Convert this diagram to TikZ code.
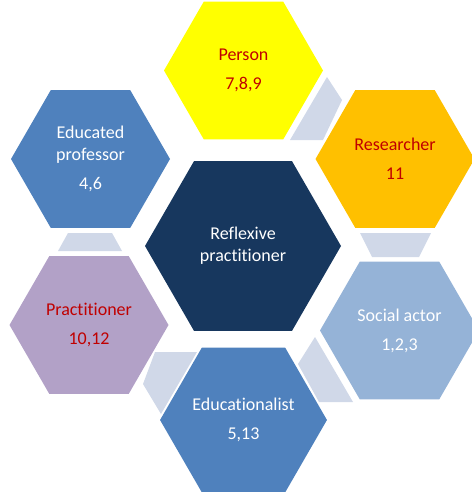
\documentclass[tikz,border=0pt]{standalone}
\usepackage{fontspec}
\setmainfont[Ligatures=CommonOff]{Carlito}
\usetikzlibrary{shapes.geometric}

\definecolor{hexyellow}{HTML}{FFFF00}
\definecolor{hexorange}{HTML}{FFC000}
\definecolor{hexblue}{HTML}{4F81BD}
\definecolor{hexnavy}{HTML}{17375E}
\definecolor{hexsky}{HTML}{95B3D7}
\definecolor{hexlilac}{HTML}{B2A1C7}
\definecolor{linkgrey}{HTML}{D0D8E8}
\definecolor{darkred}{HTML}{C00000}

\tikzset{
  hexa/.style={regular polygon, regular polygon sides=6, minimum size=159pt,
    inner sep=0pt, align=center, font=\fontsize{18}{22}\selectfont},
  bighexa/.style={hexa, minimum size=196pt},
  link/.style={fill=linkgrey}
}

\begin{document}
\begin{tikzpicture}[x=1pt,y=-1pt]
    \useasboundingbox (0,0) rectangle (471,492);

    % pieces between the outer hexagons
    \fill[link] (327,77) -- (342,100) -- (323,140) -- (290,140) -- cycle;
    \fill[link] (360,233) -- (431,233) -- (419,257) -- (372,257) -- cycle;
    \fill[link] (315,337) -- (298,364) -- (319,402) -- (353,402) -- cycle;
    \fill[link] (155,352) -- (197,352) -- (161,414) -- (143,384) -- cycle;
    \fill[link] (68,233) -- (112,233) -- (122,251) -- (58,251) -- cycle;

    \node[bighexa, fill=hexnavy, text=white] (reflexive) at (243,246) {Reflexive\\practitioner};

    \node[hexa, fill=hexyellow, text=darkred] (person) at (243.5,70.5) {Person\\[7pt]7,8,9};
    \node[hexa, fill=hexorange, text=darkred] (researcher) at (395,159) {Researcher\\[7pt]11};
    \node[hexa, fill=hexsky, text=white] (socialactor) at (399.5,330.5) {Social actor\\[7pt]1,2,3};
    \node[hexa, fill=hexblue, text=white] (educationalist) at (243.5,420) {Educationalist\\[7pt]5,13};
    \node[hexa, fill=hexlilac, text=darkred] (practitioner) at (89,325) {Practitioner\\[7pt]10,12};
    \node[hexa, fill=hexblue, text=white] (professor) at (90.5,159) {Educated\\professor\\[7pt]4,6};
\end{tikzpicture}
\end{document}
